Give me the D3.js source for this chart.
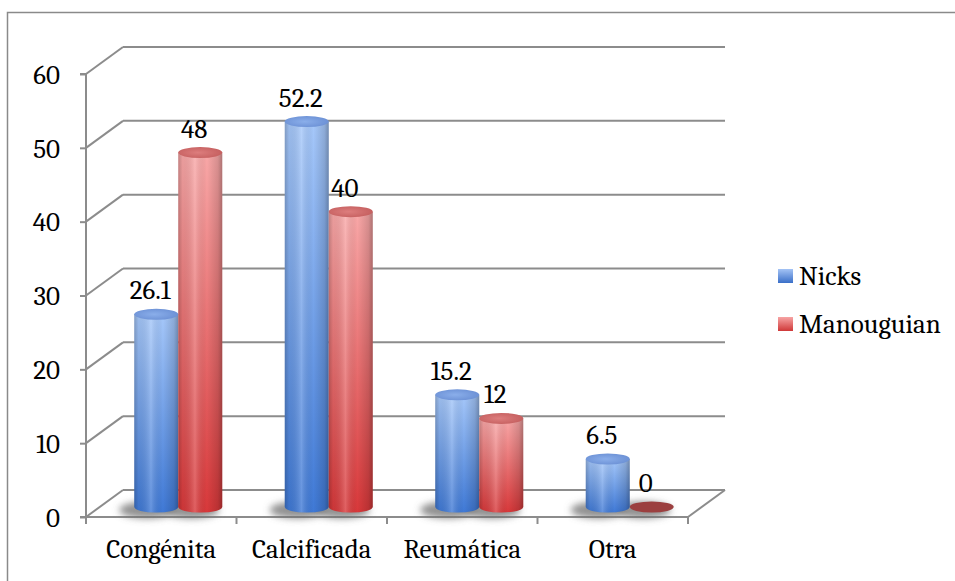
<!DOCTYPE html>
<html>
<head>
<meta charset="utf-8">
<script src="https://cdn.jsdelivr.net/npm/d3@7/dist/d3.min.js"></script>
<style>
  html, body { margin: 0; padding: 0; background: #fff; }
  svg { display: block; }
</style>
</head>
<body>
<svg id="chart" width="955" height="581"></svg>
<script>
// Data
const categories = ["Congénita", "Calcificada", "Reumática", "Otra"];
const seriesNames = ["Nicks", "Manouguian"];
const nicks = [26.1, 52.2, 15.2, 6.5];
const manouguian = [48, 40, 12, 0];
const yTicks = [0, 10, 20, 30, 40, 50, 60];

const seriesValues = [nicks, manouguian];

const svg = d3.select("#chart");
const W = 955, H = 581;
const FONT = '"Caladea", "Cambria", "Liberation Serif", serif';
const fontSize = 27;

function styleText(sel) {
  return sel.style("font-family", FONT).style("font-size", fontSize + "px").style("fill", "#000");
}

// Plot geometry (front plane + receding depth)
const x0 = 86, x1 = 688;
const y = d3.scaleLinear().domain([0, 60]).range([517, 74]);
const depth = { dx: 37, dy: -27 };   // back-wall offset
const barDepth = { dx: 17, dy: -10 }; // bars stand part-way into the floor

const x = d3.scaleBand().domain(categories).range([x0, x1]).paddingInner(0).paddingOuter(0);
const groupW = 88;
const rx = groupW / 4, ry = 5.5;

const gridColor = "#8c8c8c";

// Outer frame
svg.append("path")
  .attr("d", `M7.5,${H} L7.5,12.5 L${W},12.5`)
  .attr("fill", "none").attr("stroke", "#8a8a8a").attr("stroke-width", 1.5);

// Gradients
const defs = svg.append("defs");
const palettes = {
  Nicks: { light: "#a6c8fa", dark: "#3f79d6", top: "#8aaeea", topEdge: "#6a8fd4", sw1: "#a4c3f5", sw2: "#3a6fc8" },
  Manouguian: { light: "#f9a8a8", dark: "#d8383a", top: "#dd7d7d", topEdge: "#c45e5e", sw1: "#f7a4a4", sw2: "#cf3838" }
};
seriesNames.forEach((s, i) => {
  const p = palettes[s];
  // body: light at the top of each cylinder, saturated near the base
  const g = defs.append("linearGradient").attr("id", "body" + i)
    .attr("x1", 0).attr("x2", 0).attr("y1", 0).attr("y2", 1);
  g.append("stop").attr("offset", 0).attr("stop-color", p.light);
  g.append("stop").attr("offset", 1).attr("stop-color", p.dark);
  const t = defs.append("radialGradient").attr("id", "top" + i).attr("cx", 0.45).attr("cy", 0.5).attr("r", 0.6);
  t.append("stop").attr("offset", 0).attr("stop-color", p.top);
  t.append("stop").attr("offset", 1).attr("stop-color", p.topEdge);
  const sw = defs.append("linearGradient").attr("id", "sw" + i)
    .attr("x1", 0).attr("x2", 0).attr("y1", 0).attr("y2", 1);
  sw.append("stop").attr("offset", 0).attr("stop-color", p.sw1);
  sw.append("stop").attr("offset", 1).attr("stop-color", p.sw2);
});
// Round-surface shading across the cylinder
const hshade = defs.append("linearGradient").attr("id", "hshade")
  .attr("x1", 0).attr("x2", 1).attr("y1", 0).attr("y2", 0);
[[0, "#000", 0.22], [0.1, "#000", 0.06], [0.38, "#fff", 0.2], [0.65, "#000", 0.0], [0.9, "#000", 0.14], [1, "#000", 0.3]]
  .forEach(([o, c, a]) => hshade.append("stop").attr("offset", o).attr("stop-color", c).attr("stop-opacity", a));
defs.append("filter").attr("id", "blur").attr("x", "-50%").attr("y", "-100%").attr("width", "200%").attr("height", "300%")
  .append("feGaussianBlur").attr("stdDeviation", 3.5);

const gGrid = svg.append("g");

// Back-wall gridlines and side-wall diagonals
yTicks.forEach(v => {
  const yf = y(v);
  gGrid.append("line")
    .attr("x1", x0).attr("y1", yf).attr("x2", x0 + depth.dx).attr("y2", yf + depth.dy)
    .attr("stroke", gridColor).attr("stroke-width", 2);
  gGrid.append("line")
    .attr("x1", x0 + depth.dx).attr("y1", yf + depth.dy).attr("x2", x1 + depth.dx).attr("y2", yf + depth.dy)
    .attr("stroke", gridColor).attr("stroke-width", 2);
});
// Floor: front edge and right edge
gGrid.append("line").attr("x1", x0).attr("y1", y(0)).attr("x2", x1).attr("y2", y(0))
  .attr("stroke", gridColor).attr("stroke-width", 2);
gGrid.append("line").attr("x1", x1).attr("y1", y(0)).attr("x2", x1 + depth.dx).attr("y2", y(0) + depth.dy)
  .attr("stroke", gridColor).attr("stroke-width", 2);

// Y axis
const yAxis = d3.axisLeft(y).tickValues(yTicks).tickSize(6).tickPadding(20).tickFormat(d3.format("d"));
const gy = svg.append("g").attr("transform", `translate(${x0},0)`).call(yAxis);
gy.select(".domain").attr("stroke", gridColor).attr("stroke-width", 2).attr("d", `M-6,${y(60)}H0V${y(0)}H-6`);
gy.selectAll(".tick line").attr("stroke", gridColor).attr("stroke-width", 2);
styleText(gy.selectAll(".tick text")).attr("dy", "0.34em");

// X axis ticks at category boundaries, labels at centres
const bounds = categories.map(c => x(c)).concat([x1]);
svg.append("g").selectAll("line").data(bounds).join("line")
  .attr("x1", d => d).attr("x2", d => d).attr("y1", y(0)).attr("y2", y(0) + 7)
  .attr("stroke", gridColor).attr("stroke-width", 2);
styleText(svg.append("g").selectAll("text").data(categories).join("text")
  .attr("x", d => x(d) + x.bandwidth() / 2).attr("y", 558)
  .attr("text-anchor", "middle").text(d => d));

// Bars (cylinders)
const sx = d3.scaleBand().domain(seriesNames).range([-groupW / 2, groupW / 2]).padding(0);
const bars = [];
categories.forEach((c, ci) => {
  seriesNames.forEach((s, si) => {
    const cx = x(c) + x.bandwidth() / 2 + barDepth.dx + sx(s) + sx.bandwidth() / 2;
    bars.push({ c, s, si, v: seriesValues[si][ci], cx });
  });
});
const baseY = y(0) + barDepth.dy;

const gShadow = svg.append("g").attr("filter", "url(#blur)");
bars.forEach(b => {
  gShadow.append("ellipse")
    .attr("cx", b.cx - 9).attr("cy", baseY + 3).attr("rx", rx + 6).attr("ry", ry + 3)
    .attr("fill", "#6e6e6e").attr("opacity", 0.75);
});

const gBars = svg.append("g");
const gLabels = svg.append("g");
bars.forEach(b => {
  const topY = y(b.v) + barDepth.dy;
  const g = gBars.append("g");
  if (b.v > 0) {
    const d = `M${b.cx - rx},${topY} L${b.cx - rx},${baseY} A${rx},${ry} 0 0 0 ${b.cx + rx},${baseY} L${b.cx + rx},${topY} Z`;
    g.append("path").attr("d", d).attr("fill", `url(#body${b.si})`);
    g.append("path").attr("d", d).attr("fill", "url(#hshade)");
    g.append("ellipse").attr("cx", b.cx).attr("cy", topY).attr("rx", rx).attr("ry", ry)
      .attr("fill", `url(#top${b.si})`);
  } else {
    g.append("ellipse").attr("cx", b.cx).attr("cy", topY).attr("rx", rx).attr("ry", ry)
      .attr("fill", b.si === 1 ? "#9b3f3f" : "#3f67a8");
  }
  // Value label
  styleText(gLabels.append("text")
    .attr("x", b.cx - 6).attr("y", topY - 15)
    .attr("text-anchor", "middle")
    .text(String(b.v)));
});

// Legend
const legend = svg.append("g").attr("transform", "translate(778,269)");
seriesNames.forEach((s, i) => {
  const row = legend.append("g").attr("transform", `translate(0,${i * 48})`);
  row.append("rect").attr("width", 15).attr("height", 14).attr("fill", `url(#sw${i})`);
  styleText(row.append("text").attr("x", 21).attr("y", 16).text(s));
});
</script>
</body>
</html>
